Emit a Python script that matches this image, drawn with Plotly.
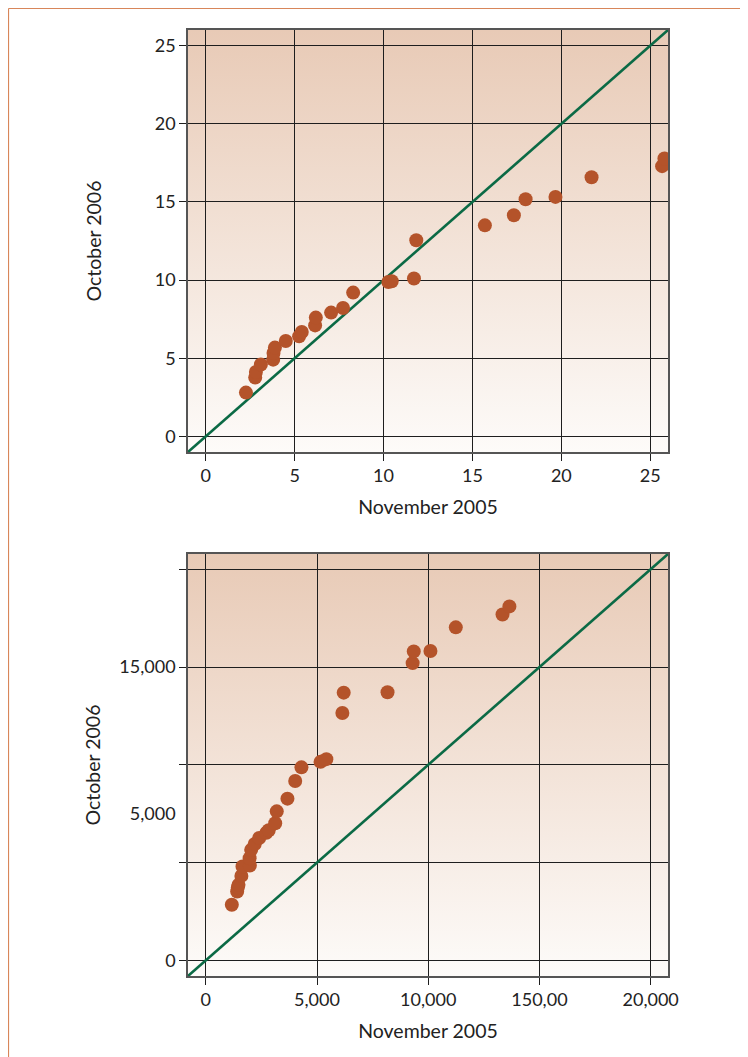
import base64
import plotly.graph_objects as go

# ---- data ----
top_nov2005 = [2.26, 2.78, 2.82, 3.10, 3.79, 3.81, 3.89, 4.50, 5.25, 5.40, 6.15, 6.19, 7.05,
               7.72, 8.29, 10.27, 10.46, 11.71, 11.84, 15.70, 17.33, 17.99, 19.67, 21.70,
               25.67, 25.80]
top_oct2006 = [2.80, 3.76, 4.12, 4.60, 4.91, 5.33, 5.68, 6.10, 6.40, 6.68, 7.10, 7.60, 7.92,
               8.21, 9.20, 9.88, 9.92, 10.10, 12.55, 13.50, 14.15, 15.17, 15.32, 16.58,
               17.29, 17.78]

bot_nov2005 = [1170, 1410, 1440, 1470, 1600, 1650, 1980, 1970, 2040, 2200, 2400, 2720, 2830,
               3120, 3190, 3670, 4020, 4300, 5160, 5420, 6140, 6200, 8170, 9300, 9350,
               10100, 11240, 13340, 13650]
bot_oct2006 = [2840, 3520, 3720, 3860, 4320, 4800, 4850, 5220, 5650, 5950, 6260, 6520, 6650,
               7010, 7620, 8270, 9170, 9870, 10150, 10290, 12650, 13690, 13710, 15200, 15800,
               15820, 17030, 17690, 18100]

top_range = [-1.0, 26.0]
bot_range = [-800, 20780]

top_ticks = [0, 5, 10, 15, 20, 25]
top_ticktext = ["0", "5", "10", "15", "20", "25"]

bot_xticks = [0, 5000, 10000, 15000, 20000]
bot_xticktext = ["0", "5,000", "10,000", "150,00", "20,000"]
bot_ygrid = [0, 5000, 10000, 15000, 20000]
bot_ylabel_vals = [0, 7500, 15000]
bot_ylabel_text = ["0", "5,000", "15,000"]

x_title = "November 2005"
y_title = "October 2006"

# ---- styles ----
MARKER = "#b4532a"
LINE = "#0b6a45"
GRID = "#1e1e1e"
FRAME = "#555555"
TEXT = "#222222"
FONT = "Lato, 'Open Sans', sans-serif"
TICK_SIZE = 18
TITLE_SIZE = 19.5

svg = ('<svg xmlns="http://www.w3.org/2000/svg" width="100" height="100" '
       'preserveAspectRatio="none"><defs><linearGradient id="g" x1="0" y1="0" x2="0" y2="1">'
       '<stop offset="0" stop-color="#e8cab6"/><stop offset="1" stop-color="#fdfbf9"/>'
       '</linearGradient></defs><rect width="100" height="100" fill="url(#g)"/></svg>')
bg_src = "data:image/svg+xml;base64," + base64.b64encode(svg.encode()).decode()

fig = go.Figure()

fig.add_trace(go.Scatter(x=top_range, y=top_range, mode="lines",
                         line=dict(color=LINE, width=2.6), xaxis="x", yaxis="y",
                         hoverinfo="skip", showlegend=False))
fig.add_trace(go.Scatter(x=top_nov2005, y=top_oct2006, mode="markers",
                         marker=dict(color=MARKER, size=14, line=dict(width=0)),
                         xaxis="x", yaxis="y", showlegend=False))
fig.add_trace(go.Scatter(x=bot_range, y=bot_range, mode="lines",
                         line=dict(color=LINE, width=2.6), xaxis="x2", yaxis="y2",
                         hoverinfo="skip", showlegend=False))
fig.add_trace(go.Scatter(x=bot_nov2005, y=bot_oct2006, mode="markers",
                         marker=dict(color=MARKER, size=14, line=dict(width=0)),
                         xaxis="x2", yaxis="y2", showlegend=False))

common = dict(showline=True, linecolor=FRAME, linewidth=1.5, mirror=True,
              zeroline=False, gridcolor=GRID, gridwidth=1.2,
              ticks="outside", ticklen=7, tickcolor=GRID, tickwidth=1.2,
              tickfont=dict(family=FONT, size=TICK_SIZE, color=TEXT), fixedrange=True)
title_font = dict(family=FONT, size=TITLE_SIZE, color=TEXT)

# page body adds an 8px offset; figure coordinates below are page coords minus 8
W, H = 740, 1049
L, T = 180, 22
PW, PH = 480, 946
B = H - T - PH
top_dom = [(968 - 444) / PH, 1.0]
bot_dom = [0.0, (968 - 546) / PH]

fx = lambda px: (px - L) / PW
fy = lambda py: (T + PH - py) / PH

fig.update_layout(
    width=W, height=H,
    margin=dict(l=L, r=W - L - PW, t=T, b=B),
    paper_bgcolor="white", plot_bgcolor="rgba(0,0,0,0)",
    font=dict(family=FONT, color=TEXT),
    xaxis=dict(domain=[0, 1], anchor="y", range=top_range, tickmode="array",
               tickvals=top_ticks, ticktext=top_ticktext,
               title=dict(text=x_title, font=title_font, standoff=15), **common),
    yaxis=dict(domain=top_dom, anchor="x", range=top_range, tickmode="array",
               tickvals=top_ticks, ticktext=top_ticktext,
               title=dict(text=y_title, font=title_font, standoff=48), **common),
    xaxis2=dict(domain=[0, 1], anchor="y2", range=bot_range, tickmode="array",
                tickvals=bot_xticks, ticktext=bot_xticktext,
                title=dict(text=x_title, font=title_font, standoff=15), **common),
    yaxis2=dict(domain=bot_dom, anchor="x2", range=bot_range,
                showline=True, linecolor=FRAME, linewidth=1.5, mirror=True, zeroline=False,
                tickmode="array", tickvals=bot_ylabel_vals, ticktext=bot_ylabel_text,
                showgrid=False, ticks="outside", ticklen=7, tickcolor="rgba(0,0,0,0)",
                tickfont=dict(family=FONT, size=TICK_SIZE, color=TEXT), fixedrange=True,
                minor=dict(tickmode="array", tickvals=bot_ygrid, showgrid=True,
                           gridcolor=GRID, gridwidth=1.2, ticks="outside", ticklen=7,
                           tickcolor=GRID, tickwidth=1.2),
                title=dict(text=y_title, font=title_font, standoff=14)),
    images=[
        dict(source=bg_src, xref="x domain", yref="y domain", x=0, y=1, sizex=1, sizey=1,
             xanchor="left", yanchor="top", sizing="stretch", layer="below"),
        dict(source=bg_src, xref="x2 domain", yref="y2 domain", x=0, y=1, sizex=1, sizey=1,
             xanchor="left", yanchor="top", sizing="stretch", layer="below"),
    ],
    shapes=[
        dict(type="line", xref="paper", yref="paper", x0=fx(0.5), x1=fx(760),
             y0=fy(0.5), y1=fy(0.5), line=dict(color="#d8865a", width=1.2)),
        dict(type="line", xref="paper", yref="paper", x0=fx(0.5), x1=fx(0.5),
             y0=fy(0.5), y1=fy(1070), line=dict(color="#d8865a", width=1.2)),
    ],
)

fig.write_html("out.html")
